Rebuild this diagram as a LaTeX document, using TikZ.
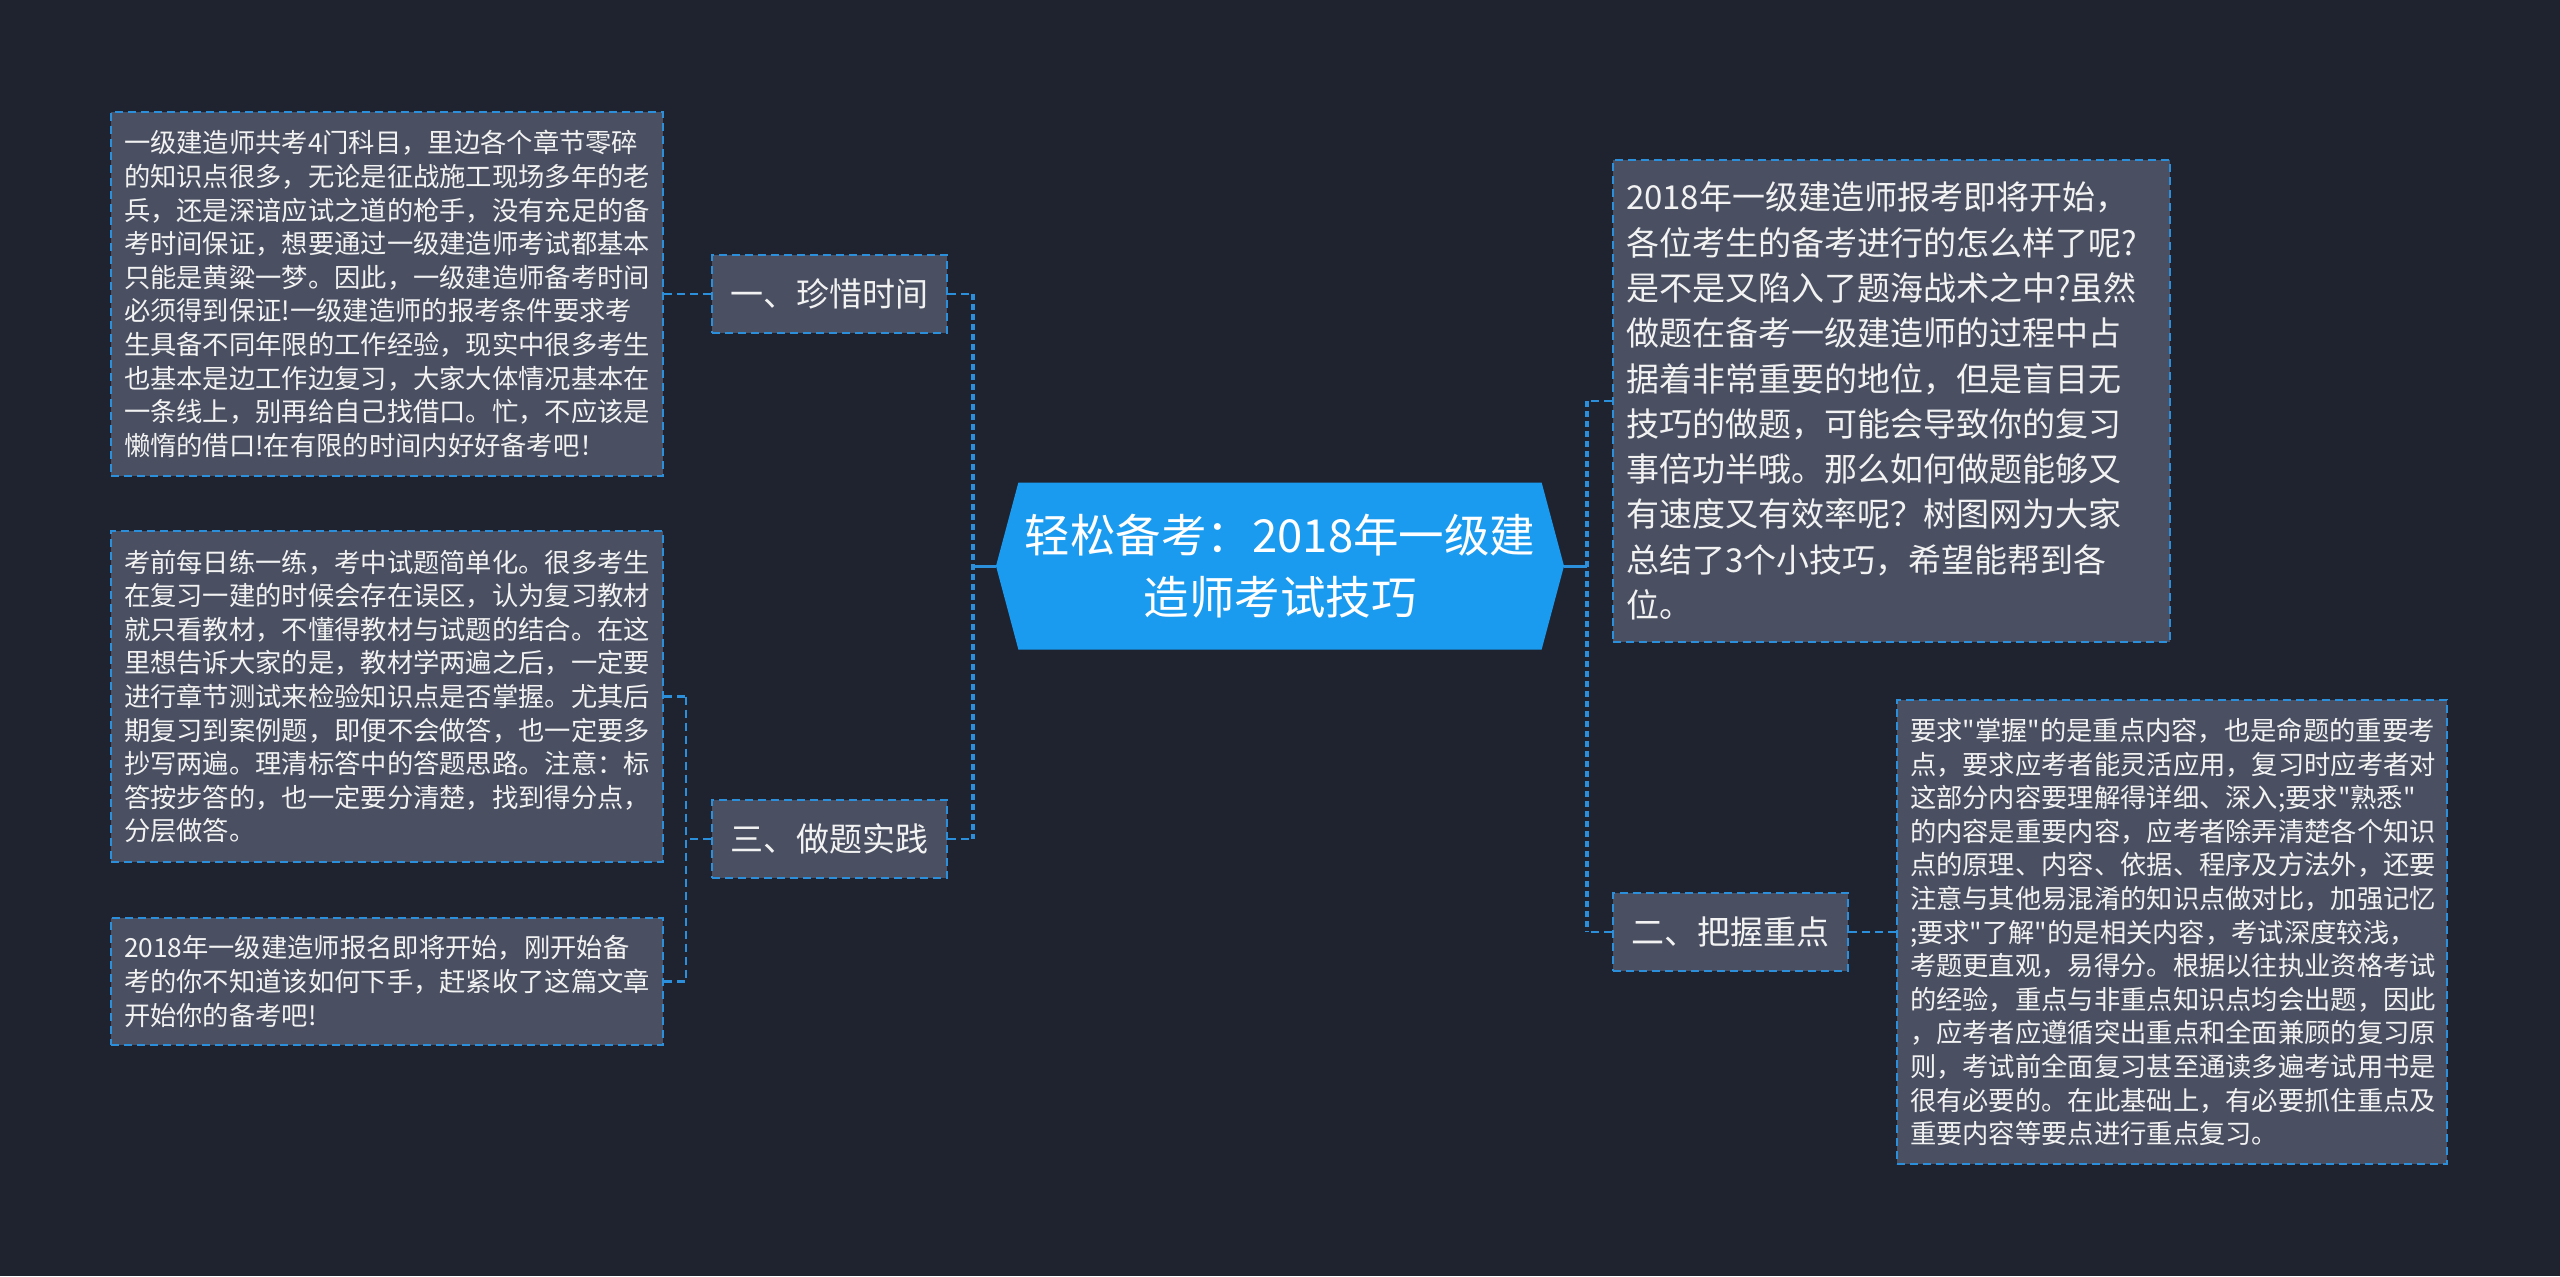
\documentclass[tikz,border=0pt]{standalone}
\usepackage{fontspec}
\newfontfamily\cjk{Noto Sans CJK SC}
\usetikzlibrary{shapes.symbols}
\definecolor{bgcol}{HTML}{1F2330}
\definecolor{boxcol}{HTML}{4A5062}
\definecolor{linecol}{HTML}{2B8FDC}
\definecolor{rootcol}{HTML}{1A9BEF}
\definecolor{txtcol}{HTML}{F2F2F2}
\tikzset{
mainnode/.style={signal, signal to=west and east, signal pointer angle=150,
	fill=rootcol, text=white, minimum width=284pt, minimum height=83.5pt,
	inner sep=0pt, align=center, font=\cjk\fontsize{22.75}{31}\selectfont},
topic/.style={draw=linecol, fill=boxcol, text=txtcol, line width=1pt,
	dash pattern=on 4pt off 2.5pt, minimum width=117.5pt, minimum height=39pt,
	inner sep=0pt, font=\cjk\fontsize{16.5}{20}\selectfont},
note/.style={draw=linecol, fill=boxcol, text=txtcol, line width=1pt,
	dash pattern=on 4pt off 2.5pt, inner xsep=6.5pt, inner ysep=0pt,
	align=left, text width=263pt, font=\cjk\fontsize{13.15}{16.8}\selectfont},
link/.style={draw=linecol, line width=1.2pt, dash pattern=on 4pt off 2.5pt},
trunk/.style={draw=linecol, line width=2pt, dash pattern=on 3pt off 2pt},
stem/.style={draw=linecol, line width=1.5pt}
}

\begin{document}
\begin{tikzpicture}[x=0.5pt, y=-0.5pt]
	\useasboundingbox (0,0) rectangle (2560,1276);
	\fill[bgcol] (0,0) rectangle (2560,1276);
	\node[mainnode] (root) at (1280,566) {轻松备考：2018年一级建\\造师考试技巧};
	\node[topic] (time) at (829.5,294) {一、珍惜时间};
	\node[topic] (practice) at (829.5,839) {三、做题实践};
	\node[topic] (focus) at (1730.5,932) {二、把握重点};
	\node[note, minimum height=182pt] (timenote) at (387,294) {一级建造师共考4门科目，里边各个章节零碎\\的知识点很多，无论是征战施工现场多年的老\\兵，还是深谙应试之道的枪手，没有充足的备\\考时间保证，想要通过一级建造师考试都基本\\只能是黄粱一梦。因此，一级建造师备考时间\\必须得到保证!一级建造师的报考条件要求考\\生具备不同年限的工作经验，现实中很多考生\\也基本是边工作边复习，大家大体情况基本在\\一条线上，别再给自己找借口。忙，不应该是\\懒惰的借口!在有限的时间内好好备考吧！};
	\node[note, minimum height=165.5pt] (drill) at (387,696.5) {考前每日练一练，考中试题简单化。很多考生\\在复习一建的时候会存在误区，认为复习教材\\就只看教材，不懂得教材与试题的结合。在这\\里想告诉大家的是，教材学两遍之后，一定要\\进行章节测试来检验知识点是否掌握。尤其后\\期复习到案例题，即便不会做答，也一定要多\\抄写两遍。理清标答中的答题思路。注意：标\\答按步答的，也一定要分清楚，找到得分点，\\分层做答。};
	\node[note, minimum height=63.5pt] (start) at (387,981.5) {2018年一级建造师报名即将开始，刚开始备\\考的你不知道该如何下手，赶紧收了这篇文章\\开始你的备考吧!};
	\node[note, text width=265.5pt, minimum height=241pt, font=\cjk\fontsize{16.5}{22.65}\selectfont] (intro) at (1891.5,401) {2018年一级建造师报考即将开始，\\各位考生的备考进行的怎么样了呢?\\是不是又陷入了题海战术之中?虽然\\做题在备考一级建造师的过程中占\\据着非常重要的地位，但是盲目无\\技巧的做题，可能会导致你的复习\\事倍功半哦。那么如何做题能够又\\有速度又有效率呢？树图网为大家\\总结了3个小技巧，希望能帮到各\\位。};
	\node[note, text width=262pt, minimum height=232pt] (focusnote) at (2172,932) {要求"掌握"的是重点内容，也是命题的重要考\\点，要求应考者能灵活应用，复习时应考者对\\这部分内容要理解得详细、深入;要求"熟悉"\\的内容是重要内容，应考者除弄清楚各个知识\\点的原理、内容、依据、程序及方法外，还要\\注意与其他易混淆的知识点做对比，加强记忆\\;要求"了解"的是相关内容，考试深度较浅，\\考题更直观，易得分。根据以往执业资格考试\\的经验，重点与非重点知识点均会出题，因此\\，应考者应遵循突出重点和全面兼顾的复习原\\则，考试前全面复习甚至通读多遍考试用书是\\很有必要的。在此基础上，有必要抓住重点及\\重要内容等要点进行重点复习。};
	\coordinate (ljoin) at (973,566);
	\coordinate (rjoin) at (1587,566);
	\coordinate (pjoin) at (686,839);
	\draw[stem] (root.west) -- (ljoin);
	\draw[trunk] (ljoin |- time.east) -- (ljoin |- practice.east);
	\draw[link] (time.east) -- (ljoin |- time.east);
	\draw[link] (practice.east) -- (ljoin |- practice.east);
	\draw[stem] (root.east) -- (rjoin);
	\draw[trunk] (rjoin |- intro.west) -- (rjoin |- focus.west);
	\draw[link] (intro.west) -- (rjoin |- intro.west);
	\draw[link] (focus.west) -- (rjoin |- focus.west);
	\draw[link] (time.west) -- (timenote.east);
	\draw[link] (practice.west) -- (pjoin);
	\draw[link] (pjoin |- drill.east) -- (pjoin |- start.east);
	\draw[link] (drill.east) -- (pjoin |- drill.east);
	\draw[link] (start.east) -- (pjoin |- start.east);
	\draw[link] (focus.east) -- (focusnote.west);
\end{tikzpicture}
\end{document}
